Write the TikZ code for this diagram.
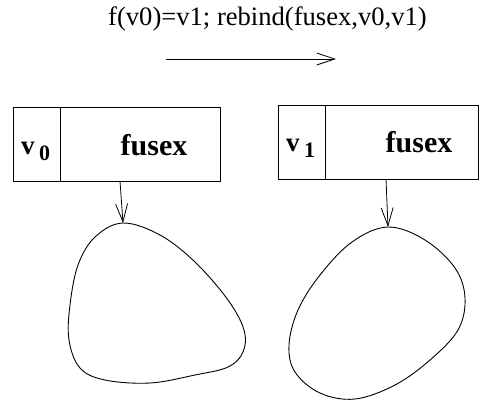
\documentclass[tikz,border=0pt]{standalone}
\usepackage{fontspec}
\setmainfont{Liberation Serif}
\usetikzlibrary{arrows.meta}
\tikzset{
  cell/.style={draw, line width=0.8pt, inner sep=0pt, minimum height=74pt},
  conn/.style={line width=0.8pt, -{Straight Barb[length=18pt,width=12pt,line width=0.8pt]}},
  blob/.style={line width=0.9pt},
  lbl/.style={inner sep=0pt, anchor=base},
}
\begin{document}
\begin{tikzpicture}[x=1pt,y=-1pt]
\useasboundingbox (0,0) rectangle (479,400);
% top label and arrow
\node[lbl] (title) at (267.5,25) {\fontsize{26.6}{30}\selectfont f(v0)=v1; rebind(fusex,v0,v1)};
\coordinate (ta) at (166,59);
\coordinate (tb) at (336,59);
\draw[conn] (ta) -- (tb);
% left box
\node[cell, minimum width=47pt] (lv) at (36.5,144) {};
\node[cell, minimum width=160pt] (lf) at (140,144) {};
\node[lbl, anchor=base west] (lvt) at (21,154) {\fontsize{27}{30}\selectfont\bfseries v\,\raisebox{-6pt}{\fontsize{22}{24}\selectfont 0}};
\node[lbl] (lft) at (154,155) {\fontsize{30}{34}\selectfont\bfseries fusex};
% right box
\node[cell, minimum width=47pt] (rv) at (301.5,142.5) {};
\node[cell, minimum width=153pt] (rf) at (401.5,142.5) {};
\node[lbl, anchor=base west] (rvt) at (286,151) {\fontsize{27}{30}\selectfont\bfseries v\,\raisebox{-6pt}{\fontsize{22}{24}\selectfont 1}};
\node[lbl] (rft) at (419,152) {\fontsize{30}{34}\selectfont\bfseries fusex};
% left blob
\coordinate (lbtop) at (123,223);
\draw[blob] plot[smooth cycle, tension=0.6] coordinates {
 (123,223) (160,235) (195,262) (228,300) (244,330) (243,352) (228,367) (195,375)
 (150,383) (105,380) (80,368) (69,340) (70,305) (78,265) (95,237)};
\coordinate (ls) at (120,181);
\draw[conn] (ls) -- (lbtop);
% right blob
\coordinate (rbtop) at (388,227);
\draw[blob] plot[smooth cycle, tension=0.6] coordinates {
 (388,227) (425,240) (455,268) (465,298) (458,330) (430,360) (395,385)
 (355,399) (320,393) (295,372) (289,345) (298,310) (320,275) (352,242)};
\coordinate (rs) at (386,179);
\draw[conn] (rs) -- (rbtop);
\end{tikzpicture}
\end{document}
